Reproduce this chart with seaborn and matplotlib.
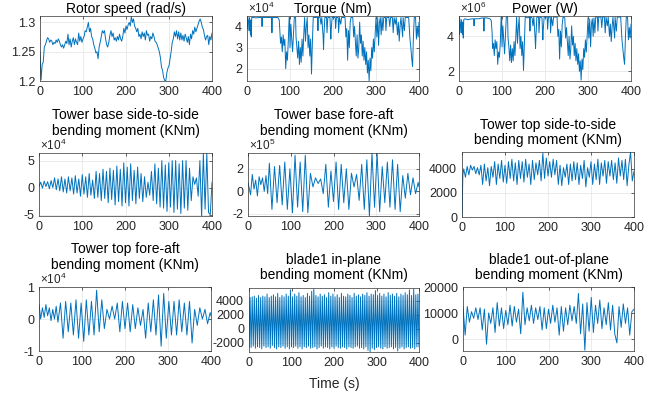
import numpy as np
import matplotlib
matplotlib.use("Agg")
import matplotlib.pyplot as plt
import seaborn as sns
from matplotlib.ticker import FuncFormatter

# ---------------- data ----------------
rotor_speed = [1.250, 1.202, 1.228, 1.232, 1.258, 1.262, 1.268, 1.274, 1.272, 1.266,
               1.270, 1.268, 1.262, 1.266, 1.264, 1.270, 1.266, 1.272, 1.268, 1.262,
               1.258, 1.262, 1.256, 1.262, 1.268, 1.264, 1.280, 1.262, 1.272, 1.258,
               1.268, 1.274, 1.262, 1.272, 1.266, 1.262, 1.282, 1.268, 1.276, 1.266,
               1.272, 1.276, 1.286, 1.284, 1.292, 1.300, 1.284, 1.290, 1.276, 1.272,
               1.262, 1.256, 1.248, 1.250, 1.238, 1.258, 1.266, 1.276, 1.286, 1.282,
               1.286, 1.272, 1.262, 1.258, 1.266, 1.278, 1.286, 1.276, 1.282, 1.270,
               1.274, 1.268, 1.276, 1.270, 1.280, 1.272, 1.268, 1.276, 1.290, 1.282,
               1.294, 1.288, 1.296, 1.300, 1.294, 1.310, 1.300, 1.306, 1.294, 1.290,
               1.284, 1.290, 1.276, 1.280, 1.272, 1.284, 1.276, 1.282, 1.270, 1.286,
               1.278, 1.280, 1.268, 1.276, 1.272, 1.282, 1.276, 1.268, 1.266, 1.262,
               1.256, 1.250, 1.240, 1.224, 1.218, 1.206, 1.201, 1.200, 1.214, 1.222,
               1.226, 1.238, 1.250, 1.266, 1.272, 1.284, 1.276, 1.286, 1.272, 1.284,
               1.270, 1.282, 1.270, 1.278, 1.268, 1.280, 1.274, 1.266, 1.276, 1.262,
               1.280, 1.272, 1.286, 1.280, 1.292, 1.284, 1.290, 1.296, 1.302, 1.306,
               1.300, 1.292, 1.288, 1.278, 1.270, 1.276, 1.278, 1.262, 1.276, 1.270,
               1.282]

# torque (x 1e4 Nm), (time s, value)
torque = [(0, 4.40), (1, 3.9), (2, 4.42), (4, 4.2), (5, 3.8), (6, 4.42), (8, 3.6), (9, 4.3),
          (10, 3.5), (11, 4.42), (14, 4.42), (20, 4.40), (30, 4.42), (34, 4.42), (35, 4.0),
          (36, 4.42), (45, 4.42), (55, 4.42), (57, 4.42), (58, 3.7), (59, 4.42), (65, 4.42),
          (72, 4.42), (75, 4.3), (77, 3.6), (78, 3.2), (80, 3.5), (82, 2.8), (84, 3.6),
          (86, 3.1), (88, 3.4), (90, 2.0), (92, 2.8), (94, 2.4), (96, 3.3), (98, 4.42),
          (99, 4.42), (100, 3.0), (102, 4.1), (104, 3.4), (106, 2.8), (108, 3.6), (110, 4.42),
          (113, 4.42), (114, 3.5), (116, 3.0), (118, 2.5), (120, 3.3), (122, 2.2), (124, 3.0),
          (126, 2.3), (128, 3.4), (130, 2.6), (132, 3.6), (134, 4.42), (136, 3.3), (138, 4.0),
          (140, 4.42), (142, 3.0), (144, 3.6), (146, 2.6), (148, 3.4), (150, 1.75), (152, 3.2),
          (154, 4.42), (160, 4.42), (164, 4.42), (165, 3.8), (166, 4.42), (170, 4.42),
          (172, 4.1), (174, 4.42), (177, 3.5), (178, 2.9), (179, 3.6), (181, 4.42), (185, 4.42),
          (186, 3.7), (188, 4.42), (193, 4.42), (195, 3.4), (196, 3.9), (198, 4.42), (205, 4.42),
          (206, 3.9), (208, 4.42), (212, 4.42), (213, 3.7), (215, 4.42), (218, 4.1), (220, 4.42),
          (228, 4.42), (230, 3.5), (232, 3.9), (234, 2.4), (236, 3.8), (238, 3.0), (240, 4.2),
          (242, 4.42), (246, 4.42), (248, 3.5), (250, 4.0), (252, 3.3), (254, 2.6), (256, 3.6),
          (258, 2.5), (260, 3.0), (262, 4.2), (264, 3.2), (266, 3.6), (268, 2.6), (270, 3.3),
          (272, 2.4), (274, 3.0), (276, 2.2), (278, 2.8), (280, 1.8), (282, 2.4), (284, 1.42),
          (286, 2.5), (288, 1.9), (290, 3.0), (292, 2.5), (294, 3.4), (296, 2.8), (298, 3.6),
          (300, 4.42), (302, 3.5), (304, 4.42), (306, 3.1), (308, 4.2), (310, 4.42), (312, 3.6),
          (314, 4.42), (316, 3.8), (318, 4.42), (322, 4.42), (323, 3.8), (325, 4.42), (330, 4.42),
          (332, 4.0), (334, 4.42), (338, 4.42), (340, 3.7), (342, 4.42), (345, 4.1), (347, 4.42),
          (350, 3.6), (352, 4.2), (354, 3.3), (356, 4.0), (358, 4.42), (362, 3.5), (363, 4.42),
          (366, 3.8), (368, 4.42), (376, 4.42), (379, 3.4), (381, 3.0), (383, 2.5), (385, 2.1),
          (387, 3.5), (389, 4.42), (392, 4.42), (394, 3.4), (396, 4.0), (398, 3.5), (400, 4.2)]

# power (x 1e6 W), (time s, value)
power = [(0, 4.9), (1, 4.1), (2, 5.0), (4, 4.6), (5, 4.2), (6, 4.95), (8, 4.1), (9, 4.8),
         (10, 3.9), (11, 4.95), (14, 5.0), (20, 4.95), (30, 5.0), (34, 5.0), (35, 4.6),
         (36, 5.0), (45, 5.0), (55, 5.05), (57, 5.05), (58, 4.3), (59, 5.05), (65, 5.05),
         (72, 5.0), (75, 4.9), (77, 4.2), (78, 3.3), (80, 3.6), (82, 2.9), (84, 3.8),
         (86, 3.3), (88, 3.7), (90, 2.4), (92, 3.1), (94, 2.8), (96, 3.6), (98, 5.1),
         (99, 5.1), (100, 3.4), (102, 4.6), (104, 3.8), (106, 3.0), (108, 4.0), (110, 5.1),
         (113, 5.1), (114, 3.9), (116, 3.4), (118, 2.6), (120, 3.5), (122, 2.5), (124, 3.3),
         (126, 2.6), (128, 3.7), (130, 2.9), (132, 3.9), (134, 5.1), (136, 3.6), (138, 4.5),
         (140, 5.1), (142, 3.3), (144, 4.0), (146, 2.9), (148, 3.7), (150, 2.05), (152, 3.5),
         (154, 5.1), (160, 5.05), (164, 5.1), (165, 4.3), (166, 5.1), (170, 5.05), (172, 4.6),
         (174, 5.1), (177, 3.9), (178, 3.3), (179, 4.0), (181, 5.1), (185, 5.1), (186, 4.2),
         (188, 5.1), (193, 5.05), (195, 3.8), (196, 4.4), (198, 5.1), (205, 5.1), (206, 4.4),
         (208, 5.1), (212, 5.1), (213, 4.2), (215, 5.1), (218, 4.6), (220, 5.1), (228, 5.1),
         (230, 4.0), (232, 4.4), (234, 2.7), (236, 4.3), (238, 3.4), (240, 4.7), (242, 5.1),
         (246, 5.05), (248, 3.9), (250, 4.5), (252, 3.7), (254, 2.9), (256, 4.0), (258, 2.7),
         (260, 3.3), (262, 4.6), (264, 3.5), (266, 4.0), (268, 2.9), (270, 3.6), (272, 2.6),
         (274, 3.3), (276, 2.4), (278, 3.0), (280, 2.0), (282, 2.6), (284, 1.5), (286, 2.7),
         (288, 2.1), (290, 3.3), (292, 2.8), (294, 3.8), (296, 3.1), (298, 4.0), (300, 5.05),
         (302, 3.9), (304, 5.0), (306, 3.4), (308, 4.7), (310, 5.0), (312, 4.0), (314, 5.05),
         (316, 4.2), (318, 5.1), (322, 5.1), (323, 4.3), (325, 5.1), (330, 5.1), (332, 4.5),
         (334, 5.1), (338, 5.1), (340, 4.2), (342, 5.1), (345, 4.6), (347, 5.1), (350, 4.0),
         (352, 4.7), (354, 3.7), (356, 4.5), (358, 5.1), (362, 3.9), (363, 5.1), (366, 4.3),
         (368, 5.1), (376, 5.1), (379, 3.8), (381, 3.3), (383, 2.8), (385, 2.4), (387, 3.9),
         (389, 5.1), (392, 5.1), (394, 3.8), (396, 4.5), (398, 3.9), (400, 4.7)]

# tower base side-to-side (x 1e4 KNm), evenly sampled 0..400 s
tb_side = [0.2, 1.0, -0.1, 1.2, 0.2, 1.1, -0.2, 1.3, 0.0, 1.8,
           -0.4, 1.6, -0.6, 2.0, -0.8, 1.6, -1.0, 2.0, -0.6, 1.8,
           -1.2, 2.2, -1.0, 1.6, -1.6, 2.4, -1.2, 2.0, -1.8, 2.6,
           -1.4, 1.4, -2.0, 3.0, -1.8, 2.6, -2.4, 3.4, -2.0, 3.0,
           -2.8, 3.6, -2.2, 3.2, -3.2, 4.0, -2.6, 3.4, -3.4, 4.6,
           -2.8, 3.8, -3.4, 4.4, -2.4, 3.2, -3.0, 3.8, -2.0, 2.6,
           -2.6, 2.0, -1.8, 1.0, -1.4, 3.0, -2.4, 4.4, -3.0, 3.6,
           -3.6, 5.0, -3.8, 4.2, -4.4, 4.6, -3.6, 5.0, -4.6, 5.0,
           -4.0, 4.4, -4.8, 5.0, -3.8, 5.0, -4.2, 3.6, -2.4, 2.0,
           0.6, 1.8, -1.6, 5.0, -5.4, 6.3, -4.0, 6.3, -4.6, -5.0,
           1.0]

# tower base fore-aft (x 1e5 KNm), (time s, value)
tb_fore = [(0, 0.8), (6, -0.3), (10, 1.5), (14, 0.2), (18, 1.0), (22, -0.4), (26, 1.3), (30, 0.6),
           (34, 1.2), (38, 0.0), (42, 1.4), (46, -0.2), (50, 2.5), (56, -1.6), (62, 2.2),
           (68, -1.0), (74, 2.3), (80, -1.2), (86, 2.6), (92, -1.6), (98, 2.0), (104, -1.9),
           (110, 3.2), (116, -1.4), (122, 2.6), (128, -1.8), (134, 3.2), (140, -1.9), (146, 1.6),
           (152, 0.4), (158, 1.2), (164, 0.7), (170, 1.1), (176, -0.2), (182, 2.4), (188, -1.4),
           (194, 1.8), (200, -0.9), (206, 2.6), (212, -1.6), (218, 2.4), (224, -1.0), (230, 2.0),
           (236, -1.6), (242, 1.6), (248, 0.4), (254, 1.5), (260, -0.8), (266, 2.4), (272, -1.6),
           (278, 2.8), (284, -2.2), (290, 3.4), (296, -1.4), (302, 3.4), (308, -1.8), (314, 2.2),
           (320, -1.0), (326, 2.6), (332, -1.4), (338, 2.8), (344, -1.6), (350, 2.4), (356, -1.8),
           (362, 1.4), (368, -0.6), (374, 1.6), (380, -0.3), (386, 1.2), (392, -0.2), (398, 0.8),
           (400, 0.4)]

# tower top side-to-side (KNm), (time s, value)
tt_side = [(0, 0), (2, 3500), (4, 4000), (8, 3300), (12, 4200), (16, 3500), (20, 4300),
           (24, 3900), (28, 4200), (32, 3600), (36, 4100), (40, 3500), (44, 4300), (48, 2700),
           (52, 4400), (56, 3000), (60, 4100), (64, 2600), (68, 4200), (72, 3300), (76, 4600),
           (80, 2700), (84, 4400), (88, 3200), (92, 4700), (96, 2900), (100, 4300), (104, 2800),
           (108, 4600), (112, 3200), (116, 4800), (120, 3000), (124, 4500), (128, 2700),
           (132, 4700), (136, 3200), (140, 4600), (144, 2900), (148, 4800), (152, 3300),
           (156, 4400), (160, 2700), (164, 4700), (168, 3100), (172, 4500), (176, 3500),
           (180, 4700), (184, 3000), (188, 5300), (192, 3200), (196, 4900), (200, 3400),
           (204, 4600), (208, 3300), (212, 4800), (216, 3500), (220, 4700), (224, 2700),
           (228, 4300), (232, 2600), (236, 4100), (240, 3300), (244, 4400), (248, 2700),
           (252, 4400), (256, 3000), (260, 4600), (264, 3100), (268, 4500), (272, 2700),
           (276, 4300), (280, 3200), (284, 4700), (288, 2500), (292, 4100), (296, 3300),
           (300, 4600), (304, 2700), (308, 4400), (312, 3100), (316, 4800), (320, 2700),
           (324, 4500), (328, 3400), (332, 4700), (336, 2800), (340, 4600), (344, 3400),
           (348, 4700), (352, 3100), (356, 4500), (360, 2800), (364, 4900), (368, 3400),
           (372, 4700), (376, 3100), (380, 4800), (384, 2600), (388, 4300), (392, 5400),
           (396, 3000), (400, 3800)]

# tower top fore-aft (x 1e4 KNm), (time s, value)
tt_fore = [(0, 0.45), (4, 0.0), (8, 0.35), (12, 0.05), (16, 0.45), (20, 0.1), (24, 0.35),
           (28, -0.05), (32, 0.3), (36, 0.0), (40, 0.4), (44, -0.1), (50, 0.5), (56, -0.6),
           (62, 0.55), (68, -0.4), (74, 0.5), (80, -0.5), (86, 0.6), (92, -0.6), (98, 0.5),
           (104, -0.7), (110, 0.6), (116, -0.5), (122, 0.55), (128, -0.5), (134, 0.9),
           (140, -0.4), (146, 0.6), (152, -0.3), (158, 0.3), (164, 0.0), (170, 0.4), (176, 0.0),
           (182, 0.5), (188, -0.4), (194, 0.55), (200, -0.3), (206, 0.5), (212, -0.4),
           (218, 0.45), (224, -0.3), (230, 0.35), (236, -0.2), (242, 0.3), (248, -0.6),
           (254, 0.5), (260, -0.4), (266, 0.6), (272, -0.5), (278, 0.75), (284, -0.85),
           (290, 0.8), (296, -0.6), (302, 0.55), (308, -0.5), (314, 0.55), (320, -0.5),
           (326, 0.6), (332, -0.4), (338, 0.5), (344, -0.5), (350, 0.55), (356, -0.75),
           (362, 0.3), (368, -0.2), (374, 0.35), (380, 0.0), (386, 0.3), (392, -0.15),
           (398, 0.2), (400, 0.1)]

# blade1 in-plane (KNm), evenly sampled 0..400 s
blade_in = [-2600, 4500, -2700, 4600, -2500, 4700, -2800, 4400, -2600, 4800,
            -2700, 4500, -2900, 4700, -2500, 4600, -2700, 5000, -2600, 4500,
            -2800, 4700, -2400, 4900, -2700, 4600, -2900, 5100, -2600, 4500,
            -2700, 4800, -2500, 4600, -2800, 5000, -2600, 4700, -2900, 5600,
            -2600, 4600, -2700, 5000, -2500, 4700, -2800, 5200, -2600, 4600,
            -2900, 4800, -2600, 4500, -2700, 5100, -2500, 4700, -2800, 5400,
            -2700, 5700, -2600, 4800, -2900, 4600, -2700, 5000, -2500, 4700,
            -2800, 4900, -2600, 4500, -2700, 5200, -2900, 4700, -2600, 5000,
            -2800, 4600, -2500, 4900, -2700, 4500, -2800, 5100, -2600, 4700,
            -2700, 4600, -2900, 5000, -2600, 4800, -2700, 4500, -2800, 5100,
            -2600, 4700, -2500, 4900, -2800, 4600, -2700, 5000, -2900, 4800,
            -2600, 5200, -3100, 4700, -3300, 5000, -2800, 4900, -3000, 5500,
            -2700, 4800, -2600, 5100, -2800, 4700, -2900, 5000, -2600, 4600,
            -2800, 5200, -2700, 4800, -2600, 5000, -2900, 4700, -2700, 5100,
            -3200, 4600, -2800, 5000, -2600, 4800, -2900, 5200, -2700, 4900,
            -2600, 5600, -2800, 4800, -2700, 5700, -2900, 4900, -2600, 5000,
            -2600]

# blade1 out-of-plane (KNm), evenly sampled 0..400 s
blade_out = [12500, 1500, 12500, 6500, 10500, 8000, 12000, 7500, 12000, 3500,
             11500, -2000, 10000, 6000, 12000, 2500, 14000, 5000, 12000, 4000,
             11000, 5500, 13000, 5000, 12500, 6500, 11500, 2000, 18000, 5500,
             12000, 7000, 13000, 6000, 12000, 7500, 12500, 3500, 12000, 4000,
             11500, 6000, 13000, 6500, 12000, 1500, 12500, 3000, 12000, 5500,
             13000, 7000, 12500, 6000, 17500, 2000, 13500, -4300, 14000, 3000,
             16000, 2500, 13000, 6000, 15000, 4000, 12000, 5500, 14000, 3500,
             13000, 2000, -1500, 12500, 4500, 13500, 6000, 12000, 1500, 10500,
             11500]

titles = ["Rotor speed (rad/s)", "Torque (Nm)", "Power (W)",
          "Tower base side-to-side\nbending moment (KNm)",
          "Tower base fore-aft\nbending moment (KNm)",
          "Tower top side-to-side\nbending moment (KNm)",
          "Tower top fore-aft\nbending moment (KNm)",
          "blade1 in-plane\nbending moment (KNm)",
          "blade1 out-of-plane\nbending moment (KNm)"]
xticks = [0, 100, 200, 300, 400]
exponents = [None, 4, 6, 4, 5, None, 4, None, None]

# ---------------- style ----------------
sns.set_theme(style="white")
plt.rcParams["font.family"] = ["Liberation Sans", "DejaVu Sans"]
plt.rcParams["mathtext.fontset"] = "custom"
plt.rcParams["mathtext.rm"] = "Liberation Sans"
plt.rcParams["axes.unicode_minus"] = False

LINE = "#0072BD"
TXT = "#262626"
FS = 9.0
TFS = 10.0

W, H = 667, 395
fig = plt.figure(figsize=(W / 100, H / 100), dpi=100)


def unzip(pairs, scale):
    t, v = zip(*pairs)
    return np.array(t, float), np.array(v, float) * scale


def even(vals, scale=1.0):
    v = np.array(vals, float) * scale
    return np.linspace(0, 400, len(v)), v


series = [
    even(rotor_speed),
    unzip(torque, 1e4),
    unzip(power, 1e6),
    even(tb_side, 1e4),
    unzip(tb_fore, 1e5),
    unzip(tt_side, 1.0),
    unzip(tt_fore, 1e4),
    even(blade_in),
    even(blade_out),
]

# pixel boxes: left, top, right, bottom
boxes = [(40, 16, 212, 81), (247, 16, 419, 81), (459, 16, 631, 81),
         (39, 153, 212, 216), (248, 153, 419, 216), (462, 152, 634, 217),
         (39, 287, 211, 351), (249, 288, 419, 352), (463, 287, 634, 351)]
ylims = [(1.2, 1.311), (1.42e4, 4.49e4), (1.45e6, 5.16e6),
         (-5.25e4, 6.4e4), (-2.18e5, 3.4e5), (0, 5400),
         (-1e4, 1e4), (-3340, 5870), (-4600, 20000)]
yticks = [[1.2, 1.25, 1.3], [2e4, 3e4, 4e4], [2e6, 4e6],
          [-5e4, 0, 5e4], [-2e5, 0, 2e5], [0, 2000, 4000],
          [-1e4, 0, 1e4], [-2000, 0, 2000, 4000], [0, 10000, 20000]]
title_pad_px = [3.5, 3.5, 3.5, 18.5, 18.5, 8, 18.5, 9, 8]

for i, (x, y) in enumerate(series):
    l, t, r, b = boxes[i]
    ax = fig.add_axes([l / W, 1 - b / H, (r - l) / W, (b - t) / H])
    sns.lineplot(x=x, y=y, ax=ax, color=LINE, linewidth=0.7, sort=False)
    ax.set_xlim(0, 400)
    ax.set_ylim(*ylims[i])
    ax.set_xticks(xticks)
    ax.set_yticks(yticks[i])
    e = exponents[i]
    if e is None:
        ax.yaxis.set_major_formatter(FuncFormatter(lambda v, p: f"{v:g}"))
    else:
        ax.yaxis.set_major_formatter(
            FuncFormatter(lambda v, p, e=e: f"{v / 10 ** e:g}"))
        ax.text(0.005, 1.0, r"$\times\mathregular{10^{%d}}$" % e,
                transform=ax.transAxes, ha="left", va="bottom",
                fontsize=FS - 0.5, color=TXT)
    ax.grid(True, color="#e3e3e3", linewidth=0.5)
    ax.set_axisbelow(True)
    for s in ax.spines.values():
        s.set_color("#333333")
        s.set_linewidth(0.5)
    ax.tick_params(direction="in", length=2.5, width=0.5, colors=TXT,
                   labelsize=FS, top=True, right=True, pad=3.5)
    ax.set_xlabel("")
    ax.set_ylabel("")
    ax.set_title(titles[i], fontsize=TFS, color="black", y=1.0,
                 pad=title_pad_px[i] / 1.389, linespacing=1.1)
    if i == 7:
        ax.set_xlabel("Time (s)", fontsize=TFS, color=TXT, labelpad=6)

fig.savefig("out.png", dpi=100)
